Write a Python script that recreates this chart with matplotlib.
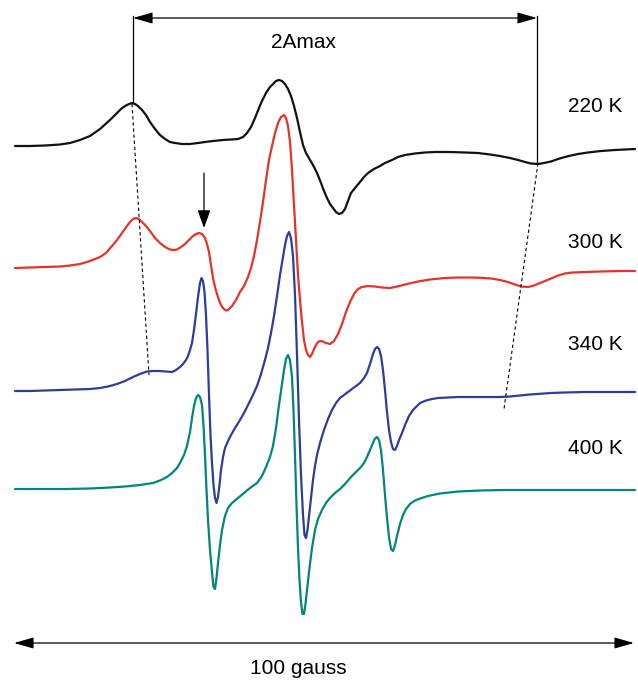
import numpy as np
import matplotlib
matplotlib.use("Agg")
import matplotlib.pyplot as plt

plt.rcParams['font.family'] = ['Liberation Sans', 'DejaVu Sans']

# EPR spectra, field on an arbitrary scale (620 units = 100 gauss),
# vertical values are the stacked traces (y axis points down)
field_220 = [15, 30, 45, 60, 70, 80, 90, 100, 110, 116, 121, 125, 129, 132, 135, 138, 142, 146,
             150, 155, 160, 165, 170, 175, 182, 190, 198, 205, 213, 223, 231, 238, 243, 247,
             251, 255, 259, 262, 266, 270, 273, 276, 279, 282, 285, 288, 291, 294, 297, 300,
             303, 306, 310, 313, 317, 321, 324, 327, 330, 333, 336, 339, 342, 345, 348, 351,
             355, 360, 364, 368, 374, 380, 385, 392, 398, 405, 415, 425, 435, 450, 465, 478,
             490, 500, 510, 518, 525, 531, 538, 544, 551, 558, 565, 571, 578, 588, 601, 615,
             625, 635]
trace_220 = [146, 146, 145.5, 144.5, 143, 140, 136, 129, 120, 114, 109, 106, 104, 103, 104, 106,
             110, 115, 122, 129, 135, 139, 142, 143, 144, 144, 143, 142, 141, 140, 139.5, 139,
             137, 133, 127, 118, 108, 101, 93, 87, 84, 81, 80, 81, 84, 89, 96, 106, 118, 132,
             145, 153, 160, 165, 173, 183, 191, 198, 204, 208, 212, 214, 213, 209, 201, 193,
             188, 182, 177, 173, 169, 166, 163, 160, 157, 155, 153.5, 152.5, 152, 152, 152.5,
             153, 154.5, 156, 158, 160, 162, 163.5, 164, 163, 161.5, 159, 157, 155.5, 154,
             152.5, 151, 150, 149.5, 149]

field_300 = [15, 30, 45, 60, 70, 80, 90, 100, 106, 112, 117, 122, 127, 130, 133, 136, 139, 142,
             146, 150, 155, 160, 165, 170, 173, 177, 181, 185, 189, 193, 196, 199, 202, 205,
             207, 209, 211, 213, 215, 217, 219, 221, 223, 225, 227, 229, 232, 236, 240, 244,
             248, 251, 254, 257, 260, 263, 266, 269, 272, 275, 278, 281, 284, 286, 288, 290,
             292, 294, 296, 298, 300, 302, 304, 306, 308, 310, 312, 314, 316, 318, 320, 323,
             326, 330, 334, 338, 342, 346, 350, 354, 358, 362, 368, 375, 382, 390, 397, 405,
             418, 430, 445, 458, 470, 481, 491, 500, 508, 515, 521, 528, 534, 540, 545, 551,
             558, 565, 572, 585, 600, 620, 635]
trace_300 = [268, 267.5, 267, 266.5, 265.5, 264, 261, 257, 253, 246, 240, 233, 226, 222, 219,
             218, 219, 222, 226, 231, 238, 243, 247, 249.5, 250, 249.5, 247, 244, 240, 236, 234,
             233, 234, 238, 244, 252, 265, 278, 287, 294, 300, 305, 308, 310, 310.5, 309, 306,
             300, 292, 286, 277, 268, 256, 240, 222, 202, 180, 160, 146, 133, 123, 117, 115,
             118, 126, 142, 170, 205, 240, 275, 300, 322, 340, 350, 355, 357, 354, 349, 345,
             342, 341, 341.5, 343, 344, 341, 334, 324, 312, 302, 294, 289, 287, 286, 286.5,
             287.5, 288, 286.5, 284.5, 281.5, 279.5, 278, 277.5, 277.5, 277.8, 278.5, 280, 282,
             284.5, 286.5, 287, 285.5, 283, 281, 278.5, 275.5, 273.5, 272.5, 272, 271.5, 271, 271]

field_340 = [15, 30, 45, 60, 75, 90, 100, 108, 117, 125, 133, 140, 147, 153, 160, 166, 172, 176,
             180, 183, 186, 188, 190, 192, 194, 196, 198, 200, 201.5, 203, 204.5, 206, 207.5,
             209, 210.5, 212, 213.5, 215, 216.5, 218, 219.5, 221, 223, 225, 228, 231, 235, 240,
             244, 248, 252, 257, 261, 265, 268, 271, 274, 277, 280, 283, 285, 287, 289, 291,
             293, 295, 297, 299, 301, 303, 304.5, 306, 307.5, 309, 311, 313, 315, 317, 320,
             324, 328, 332, 336, 340, 344, 348, 352, 356, 360, 364, 367, 370, 373, 375, 377,
             379, 381, 383, 385, 387, 389, 391, 393, 395, 397, 399, 402, 405, 409, 413, 417,
             420, 426, 432, 438, 448, 458, 470, 485, 500, 510, 520, 530, 540, 551, 565, 585,
             610, 635]
trace_340 = [391, 391, 390.5, 390, 389.5, 389, 388, 386.5, 384, 381, 377, 374, 371.5, 371, 371,
             371.5, 372, 370, 367, 364, 360, 356, 350, 343, 330, 314, 297, 283, 278, 281, 292,
             315, 350, 395, 435, 463, 485, 498, 503, 497, 485, 470, 457, 448, 441, 435, 428,
             420, 413, 405, 397, 386, 374, 360, 348, 333, 316, 296, 275, 257, 245, 236, 232,
             238, 256, 295, 355, 420, 475, 515, 535, 538, 530, 516, 498, 480, 466, 455, 443,
             430, 419, 410, 403, 398, 395, 392, 389, 386, 383, 378, 373, 364, 354, 349, 347,
             349, 356, 370, 390, 412, 430, 442, 449, 450, 446, 440, 433, 425, 416, 410, 406,
             403, 400.5, 399, 398, 397.5, 397, 397, 397, 397, 396.5, 395.5, 394.5, 393.8, 393,
             392.5, 392, 392, 392]

field_400 = [15, 40, 67, 90, 110, 125, 140, 153, 160, 167, 172, 177, 180, 184, 187, 190, 192,
             194, 196, 198, 200, 202, 203.5, 205, 206.5, 208, 210, 212, 213.5, 215, 216.5, 218,
             220, 222, 225, 228, 232, 238, 244, 250, 257, 262, 266, 270, 273, 276, 279, 282,
             284, 286, 288, 290, 292, 293.5, 295, 296.5, 298, 299.5, 301, 302.5, 304, 305.5,
             307, 309, 312, 315, 318, 322, 326, 330, 335, 340, 345, 351, 356, 360, 364, 367,
             370, 373, 375, 377, 379, 381, 383, 385, 387, 389, 391, 393, 395, 397, 400, 403,
             406, 410, 415, 420, 428, 440, 458, 480, 505, 550, 600, 635]
trace_400 = [489, 489, 489, 488.5, 487.5, 486.5, 485, 483, 480.5, 477, 473, 468, 463, 455, 446,
             432, 418, 406, 398, 395, 397, 405, 425, 455, 490, 520, 550, 572, 587, 589, 578,
             563, 545, 530, 516, 508, 503, 498, 493, 488, 483, 476, 467, 457, 446, 428, 405,
             384, 370, 359, 355, 360, 377, 410, 455, 505, 548, 580, 602, 614, 614, 604, 590,
             572, 548, 530, 519, 510, 503, 498, 493, 489, 484, 477, 472, 468, 463, 457, 450,
             443, 438.5, 437, 440, 450, 470, 495, 518, 537, 549, 551, 545, 536, 524, 515, 509,
             504, 500.5, 498.5, 496, 493.5, 491.5, 490.5, 490, 490, 490, 490]

temps = ['220 K', '300 K', '340 K', '400 K']
label_pos = [106, 243, 345, 448]
colors = ['#111111', '#e5332a', '#2e3d9c', '#00857f']

fig = plt.figure(figsize=(6.38, 6.80), dpi=100)
ax = fig.add_axes([0, 0, 1, 1])
ax.set_xlim(0, 638)
ax.set_ylim(680, 0)
ax.axis('off')

fields = [field_220, field_300, field_340, field_400]
traces = [trace_220, trace_300, trace_340, trace_400]
for f, t, c in zip(fields, traces, colors):
    ax.plot(f, t, color=c, lw=1.6, solid_joinstyle='round', solid_capstyle='round')

for name, yy in zip(temps, label_pos):
    ax.text(568, yy, name, fontsize=15, ha='left', va='center')

head = dict(color='black', lw=0.9, mutation_scale=20, shrinkA=0, shrinkB=0)

# 2Amax marker
ax.plot([133, 133], [16, 103], color='black', lw=0.9)
ax.plot([537, 537], [16, 163], color='black', lw=0.9)
ax.annotate('', xy=(133, 18), xytext=(537, 18),
            arrowprops=dict(arrowstyle='<|-|>,head_length=0.6,head_width=0.17', **head))
ax.text(304, 42, '2Amax', fontsize=15, ha='center', va='center')

# dashed guide lines
ax.plot([132, 149], [104, 375], color='black', lw=0.8, ls=(0, (3, 2.5)))
ax.plot([538, 504], [163, 409], color='black', lw=0.8, ls=(0, (3, 2.5)))

# arrow pointing at the shoulder
ax.annotate('', xy=(204, 228), xytext=(204, 173),
            arrowprops=dict(arrowstyle='-|>,head_length=0.55,head_width=0.2', **head))

# 100 gauss scale bar
ax.annotate('', xy=(14, 643), xytext=(634, 643),
            arrowprops=dict(arrowstyle='<|-|>,head_length=0.6,head_width=0.17', **head))
ax.text(298, 668, '100 gauss', fontsize=15, ha='center', va='center')

fig.savefig('out.png', dpi=100)
